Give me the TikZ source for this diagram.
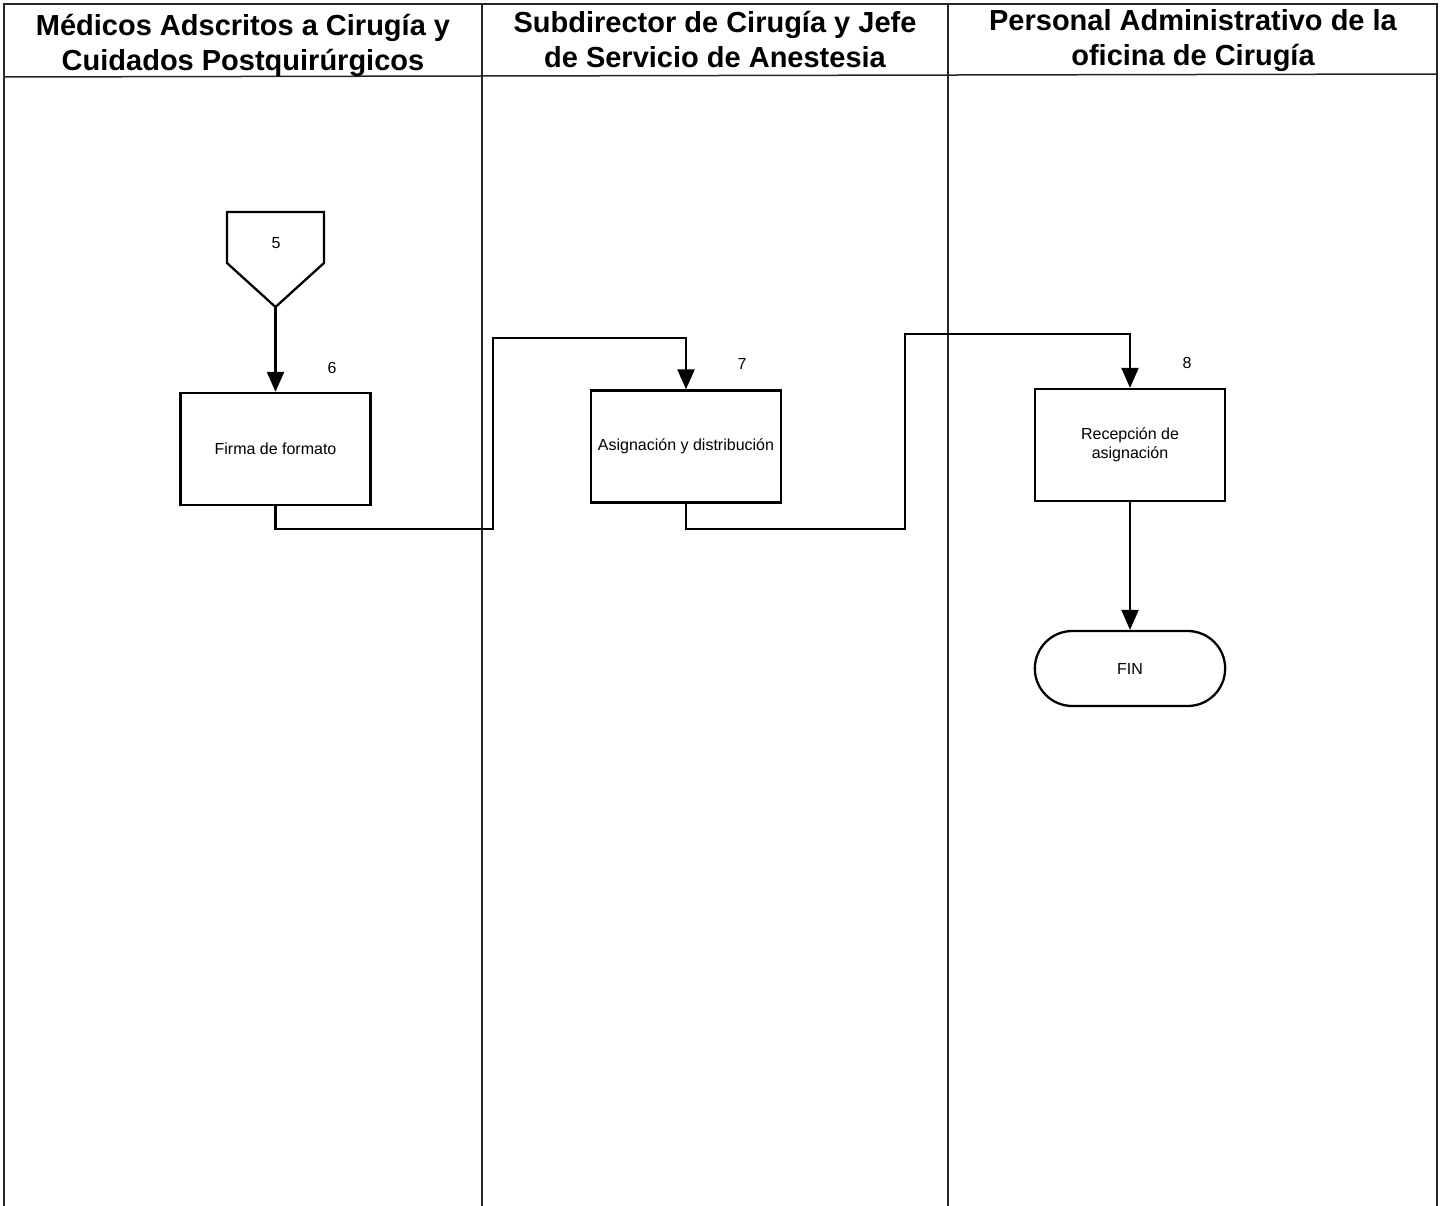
\documentclass[tikz,border=0pt]{standalone}
\usepackage{fontspec}
\setmainfont{Liberation Sans}
\usetikzlibrary{arrows.meta,shapes.misc}
\begin{document}
\begin{tikzpicture}[x=1pt,y=-1pt,
  lane/.style={line width=1.5pt,draw=black!85},
  hdr/.style={font=\bfseries\fontsize{29}{35}\selectfont,align=center,inner sep=0pt},
  proc/.style={draw,line width=2.3pt,minimum width=190pt,minimum height=112pt,inner sep=2pt,align=center,font=\fontsize{16}{19}\selectfont},
  term/.style={draw,line width=2.3pt,rounded rectangle,minimum width=197pt,minimum height=75pt,font=\fontsize{16}{19}\selectfont},
  num/.style={font=\fontsize{16}{19}\selectfont,inner sep=0pt},
  flow/.style={line width=2.3pt,-{Triangle[width=17pt,length=20pt]}}]
\useasboundingbox (0,0) rectangle (1440,1206);
\fill[white] (0,0) rectangle (1440,1206);
% frame and lanes
\draw[lane] (4,1210) -- (4,4) -- (1437,4) -- (1437,1210);
\draw[lane] (4,77) -- (1437,74);
\draw[lane] (482,4) -- (482,1210);
\draw[lane] (948,4) -- (948,1210);
% headers
\node[hdr] (h1) at (243,45) {Médicos Adscritos a Cirugía y\\Cuidados Postquirúrgicos};
\node[hdr] (h2) at (715,40) {Subdirector de Cirugía y Jefe\\de Servicio de Anestesia};
\node[hdr] (h3) at (1193,41) {Personal Administrativo de la\\oficina de Cirugía};
% off-page connector 5
\draw[line width=2.3pt,line join=miter] (227,212) -- (324,212) -- (324,263) -- (275.5,307) -- (227,263) -- cycle;
\node[num] (c5) at (276,243) {5};
\coordinate (c5tip) at (275.5,307);
% process boxes
\node[proc] (p6) at (275.5,449) {Firma de formato};
\node[proc] (p7) at (686,446.5) {Asignación y distribución};
\node[proc] (p8) at (1130,445) {Recepción de\\asignación};
\node[term] (fin) at (1130,668.5) {FIN};
% step numbers
\node[num] (n6) at (332,368) {6};
\node[num] (n7) at (742,364) {7};
\node[num] (n8) at (1187,363) {8};
% connectors
\draw[flow] (c5tip) -- (p6.north);
\draw[flow] (p6.south) -- ++(0,23) -| (493,338) -| (p7.north);
\draw[flow] (p7.south) -- ++(0,25) -| (905,334) -| (p8.north);
\draw[flow] (p8.south) -- (fin.north);
\end{tikzpicture}
\end{document}
